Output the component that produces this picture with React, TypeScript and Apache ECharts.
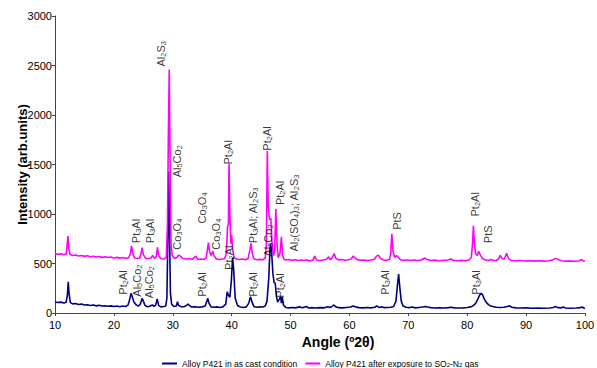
import React, { useEffect, useRef } from "react";
import * as echarts from "echarts";

// XRD pattern of alloy P421 in the as-cast condition: [angle 2θ, intensity]
const asCast: [number, number][] = [
  [10.0, 112], [10.5, 106], [11.0, 110], [11.5, 102], [11.9, 108], [12.1, 180], [12.25, 315], [12.4, 190],
  [12.6, 105], [13.0, 92], [13.5, 96], [14.0, 86], [14.5, 90], [15.0, 80], [15.5, 84], [16.0, 76],
  [16.5, 80], [17.0, 72], [17.5, 78], [18.0, 70], [18.5, 74], [19.0, 68], [19.5, 72], [20.0, 66],
  [20.5, 70], [21.0, 64], [21.5, 70], [22.0, 66], [22.4, 80], [22.7, 140], [22.9, 199], [23.1, 170],
  [23.4, 110], [23.8, 80], [24.2, 70], [24.5, 90], [24.8, 148], [25.0, 120], [25.3, 75], [25.7, 64],
  [26.1, 68], [26.4, 78], [26.6, 81], [26.8, 66], [27.1, 80], [27.35, 141], [27.6, 75], [28.0, 62],
  [28.5, 66], [28.8, 70], [29.0, 150], [29.15, 700], [29.3, 1430], [29.45, 800], [29.6, 200], [29.8, 90],
  [30.2, 66], [30.6, 70], [30.8, 114], [31.0, 75], [31.5, 62], [32.0, 66], [32.4, 80], [32.6, 91],
  [32.8, 78], [33.2, 60], [33.8, 64], [34.4, 58], [35.0, 62], [35.5, 70], [35.8, 120], [35.95, 148],
  [36.15, 100], [36.5, 62], [37.0, 58], [37.5, 62], [38.0, 56], [38.5, 62], [39.0, 90], [39.25, 215],
  [39.45, 180], [39.7, 160], [39.95, 330], [40.15, 560], [40.35, 430], [40.6, 150], [41.0, 75], [41.5, 60],
  [42.0, 56], [42.5, 62], [42.9, 100], [43.2, 165], [43.45, 110], [43.8, 64], [44.3, 58], [44.8, 62],
  [45.3, 60], [45.7, 70], [46.0, 120], [46.3, 350], [46.5, 640], [46.65, 700], [46.8, 600], [47.0, 400],
  [47.2, 310], [47.4, 300], [47.6, 170], [47.8, 110], [48.1, 140], [48.3, 165], [48.45, 100], [48.6, 160],
  [48.8, 80], [49.2, 56], [49.8, 52], [50.3, 56], [50.8, 52], [51.5, 62], [52.0, 52], [52.7, 66],
  [53.1, 50], [53.6, 54], [54.2, 50], [55.0, 54], [55.6, 52], [56.0, 58], [56.3, 64], [56.7, 56],
  [57.1, 70], [57.35, 81], [57.7, 62], [58.2, 54], [58.8, 52], [59.5, 56], [60.2, 60], [60.6, 71],
  [61.0, 62], [61.6, 54], [62.3, 52], [63.0, 56], [63.6, 52], [64.3, 58], [64.65, 71], [65.0, 56],
  [65.5, 62], [65.9, 54], [66.5, 56], [67.0, 58], [67.5, 66], [67.9, 120], [68.15, 280], [68.35, 394],
  [68.55, 260], [68.8, 120], [69.1, 70], [69.6, 58], [70.2, 54], [70.6, 60], [71.2, 52], [71.8, 56],
  [72.4, 60], [72.9, 66], [73.3, 60], [73.8, 54], [74.5, 50], [75.2, 52], [76.0, 50], [76.8, 54],
  [77.3, 58], [77.8, 52], [78.5, 50], [79.3, 52], [80.0, 55], [80.6, 62], [81.0, 74], [81.4, 95],
  [81.8, 140], [82.1, 180], [82.35, 200], [82.6, 185], [82.9, 140], [83.2, 110], [83.6, 85], [84.0, 70],
  [84.5, 64], [85.0, 58], [85.6, 56], [86.2, 58], [86.8, 66], [87.2, 72], [87.6, 58], [88.3, 52],
  [89.0, 50], [90.0, 52], [91.0, 48], [92.0, 50], [93.0, 48], [94.0, 50], [94.6, 56], [95.0, 66],
  [95.4, 54], [96.0, 52], [96.3, 60], [96.7, 50], [97.5, 48], [98.5, 50], [99.2, 54], [99.5, 60],
  [99.8, 50], [100.0, 46],
];

// XRD pattern after exposure to SO2-N2 gas: [angle 2θ, intensity]
const exposed: [number, number][] = [
  [10.0, 600], [10.5, 592], [11.0, 598], [11.5, 588], [11.9, 595], [12.05, 680], [12.2, 778], [12.35, 650],
  [12.55, 590], [13.0, 580], [13.5, 586], [14.0, 576], [14.5, 580], [15.0, 572], [15.5, 578], [16.0, 568],
  [16.5, 574], [17.0, 565], [17.5, 570], [18.0, 562], [18.5, 568], [19.0, 560], [19.5, 565], [20.0, 556],
  [20.5, 562], [21.0, 554], [21.5, 560], [22.0, 552], [22.5, 558], [22.8, 600], [23.0, 677], [23.2, 610],
  [23.5, 555], [24.0, 550], [24.4, 556], [24.65, 610], [24.8, 660], [25.0, 590], [25.4, 552], [25.9, 548],
  [26.3, 556], [26.6, 580], [26.9, 552], [27.2, 570], [27.4, 663], [27.6, 580], [28.0, 548], [28.5, 545],
  [28.9, 560], [29.1, 900], [29.25, 1800], [29.4, 2460], [29.55, 1500], [29.7, 700], [29.9, 580], [30.3, 552],
  [30.7, 560], [31.0, 585], [31.3, 575], [31.7, 550], [32.2, 545], [32.8, 550], [33.3, 542], [33.9, 575],
  [34.3, 540], [34.8, 545], [35.3, 540], [35.7, 560], [35.9, 650], [36.05, 710], [36.25, 620], [36.5, 580],
  [36.8, 626], [37.0, 580], [37.4, 545], [37.9, 540], [38.4, 545], [38.8, 548], [39.1, 600], [39.3, 870],
  [39.45, 900], [39.55, 1505], [39.7, 1000], [39.85, 700], [40.0, 790], [40.15, 650], [40.4, 560], [40.8, 545],
  [41.3, 540], [41.8, 545], [42.3, 538], [42.8, 550], [43.1, 640], [43.3, 704], [43.5, 600], [43.8, 545],
  [44.3, 538], [44.8, 542], [45.3, 538], [45.7, 555], [45.9, 700], [46.05, 1640], [46.2, 1100], [46.35, 980],
  [46.5, 940], [46.65, 960], [46.85, 700], [47.1, 580], [47.3, 620], [47.5, 1050], [47.7, 700], [47.9, 560],
  [48.2, 600], [48.45, 770], [48.65, 580], [48.9, 540], [49.3, 535], [49.8, 540], [50.3, 532], [50.8, 538],
  [51.3, 530], [51.8, 536], [52.3, 530], [52.8, 535], [53.3, 528], [53.8, 534], [54.1, 575], [54.4, 535],
  [54.9, 530], [55.5, 535], [56.0, 540], [56.5, 567], [56.8, 538], [57.1, 560], [57.4, 600], [57.7, 552],
  [58.2, 535], [58.7, 540], [59.2, 532], [59.8, 538], [60.3, 545], [60.6, 575], [60.9, 560], [61.3, 540],
  [61.8, 532], [62.4, 536], [63.0, 530], [63.6, 536], [64.2, 540], [64.6, 575], [64.9, 585], [65.3, 550],
  [65.8, 535], [66.3, 532], [66.8, 540], [67.0, 600], [67.2, 800], [67.4, 620], [67.7, 560], [68.0, 582],
  [68.3, 560], [68.7, 538], [69.2, 532], [69.8, 536], [70.4, 530], [71.0, 535], [71.6, 530], [72.2, 535],
  [72.8, 555], [73.2, 540], [73.8, 530], [74.5, 534], [75.2, 528], [76.0, 532], [76.8, 536], [77.2, 545],
  [77.6, 532], [78.3, 528], [79.0, 532], [79.7, 528], [80.3, 535], [80.7, 560], [80.9, 700], [81.05, 882],
  [81.2, 720], [81.4, 600], [81.7, 580], [81.95, 623], [82.2, 590], [82.6, 550], [83.1, 535], [83.6, 530],
  [84.0, 540], [84.4, 532], [84.9, 530], [85.3, 545], [85.6, 583], [85.9, 550], [86.3, 545], [86.7, 603],
  [87.0, 550], [87.5, 530], [88.2, 526], [89.0, 530], [89.8, 525], [90.6, 528], [91.4, 524], [92.2, 528],
  [93.0, 524], [93.8, 528], [94.5, 535], [95.0, 552], [95.4, 540], [96.0, 528], [96.8, 524], [97.6, 526],
  [98.4, 522], [99.0, 526], [99.4, 540], [99.7, 528], [100.0, 522],
];

// Phase annotations: [angle 2θ, intensity at the foot of the text, phase]
const exposedPhases: [number, number, string][] = [
  [28.0, 2490, "Al{s|2}S{s|3}"],
  [30.7, 1370, "Al{s|5}Co{s|2}"],
  [23.8, 705, "Pt{s|3}Al"],
  [26.1, 705, "Pt{s|3}Al"],
  [30.7, 640, "Co{s|3}O{s|4}"],
  [34.9, 905, "Co{s|3}O{s|4}"],
  [37.3, 640, "Co{s|3}O{s|4}"],
  [39.3, 1500, "Pt{s|2}Al"],
  [43.6, 705, "Pt{s|3}Al; Al{s|2}S{s|3}"],
  [45.95, 1640, "Pt{s|2}Al"],
  [48.2, 1090, "Pt{s|2}Al"],
  [50.5, 620, "Al{s|2}(SO{s|4}){s|3}; Al{s|2}S{s|3}"],
  [68.1, 840, "PtS"],
  [81.4, 975, "Pt{s|2}Al"],
  [83.6, 705, "PtS"],
];

const asCastPhases: [number, number, string][] = [
  [21.6, 185, "Pt{s|2}Al"],
  [23.9, 165, "Al{s|5}Co{s|2}"],
  [26.0, 150, "Al{s|5}Co{s|2}"],
  [35.0, 165, "Pt{s|2}Al"],
  [39.5, 435, "Pt{s|2}Al"],
  [43.7, 165, "Pt{s|2}Al"],
  [46.2, 570, "Al{s|5}Co{s|2}"],
  [48.2, 155, "Pt{s|2}Al"],
  [66.0, 185, "Pt{s|3}Al"],
  [81.5, 185, "Pt{s|3}Al"],
];

const seriesNames = ["Alloy P421 in as cast condition", "Alloy P421 after exposure to SO2-N2 gas"];
const legendTexts = ["Alloy P421 in as cast condition", "Alloy P421 after exposure to SO{s|2}-N{s|2} gas"];
const seriesColors = ["#000080", "#ff00ff"];

const FONT = '"Liberation Sans", Arial, sans-serif';

export default function App() {
  const ref = useRef<HTMLDivElement>(null);

  useEffect(() => {
    if (!ref.current) return;
    const chart = echarts.init(ref.current, undefined, { renderer: "svg" });

    const subStyle = { fontSize: 7.5, fontFamily: FONT, color: "#000", verticalAlign: "bottom", lineHeight: 8 };

    const phaseLabels = [...exposedPhases, ...asCastPhases].map(([a, v, t]) => ({ value: [a, v], name: t }));

    chart.setOption({
      animation: false,
      backgroundColor: "#ffffff",
      textStyle: { fontFamily: FONT },
      grid: { left: 55, right: 12, top: 16, bottom: 55, containLabel: false, outerBoundsMode: "none" },
      legend: {
        data: seriesNames,
        left: 157,
        top: 354,
        itemWidth: 15,
        itemHeight: 2,
        itemGap: 8,
        icon: "rect",
        textStyle: { fontSize: 8.5, color: "#000", fontFamily: FONT, rich: { s: { ...subStyle, fontSize: 6, lineHeight: 6 } } },
        formatter: (name: string) => legendTexts[seriesNames.indexOf(name)],
      },
      xAxis: {
        type: "value",
        min: 10,
        max: 100,
        interval: 10,
        name: "Angle (º2θ)",
        nameLocation: "middle",
        nameGap: 22,
        nameMoveOverlap: false,
        nameTextStyle: { fontSize: 14, fontWeight: "bold", color: "#000", fontFamily: FONT, padding: [0, 0, 0, 36] },
        axisLine: { lineStyle: { color: "#444", width: 1 } },
        axisTick: { show: true, length: 3, lineStyle: { color: "#444" } },
        axisLabel: { fontSize: 11, color: "#000", margin: 6, fontFamily: FONT },
        splitLine: { show: false },
      },
      yAxis: {
        type: "value",
        min: 0,
        max: 3000,
        interval: 500,
        name: "Intensity (arb.units)",
        nameLocation: "middle",
        nameGap: 26,
        nameMoveOverlap: false,
        nameTextStyle: { fontSize: 13, fontWeight: "bold", color: "#000", fontFamily: FONT },
        axisLine: { show: true, lineStyle: { color: "#444", width: 1 } },
        axisTick: { show: true, length: 3, lineStyle: { color: "#444" } },
        axisLabel: { fontSize: 11, color: "#000", margin: 3, fontFamily: FONT, formatter: (v: number) => String(v) },
        splitLine: { show: false },
      },
      series: [
        {
          name: seriesNames[0],
          type: "line",
          data: asCast,
          showSymbol: false,
          symbol: "none",
          color: seriesColors[0],
          lineStyle: { color: seriesColors[0], width: 1.6 },
          z: 2,
        },
        {
          name: seriesNames[1],
          type: "line",
          data: exposed,
          showSymbol: false,
          symbol: "none",
          color: seriesColors[1],
          lineStyle: { color: seriesColors[1], width: 1.6 },
          z: 3,
        },
        {
          type: "scatter",
          data: phaseLabels,
          symbolSize: 0,
          silent: true,
          z: 5,
          label: {
            show: true,
            position: "inside",
            rotate: 90,
            align: "left",
            verticalAlign: "middle",
            fontSize: 11,
            lineHeight: 13,
            color: "#000",
            fontFamily: FONT,
            formatter: (p: any) => p.name,
            rich: { s: subStyle },
          },
        },
      ],
    });

    return () => chart.dispose();
  }, []);

  return <div ref={ref} style={{ position: "fixed", left: 0, top: 0, width: 597, height: 368, background: "#fff" }} />;
}
